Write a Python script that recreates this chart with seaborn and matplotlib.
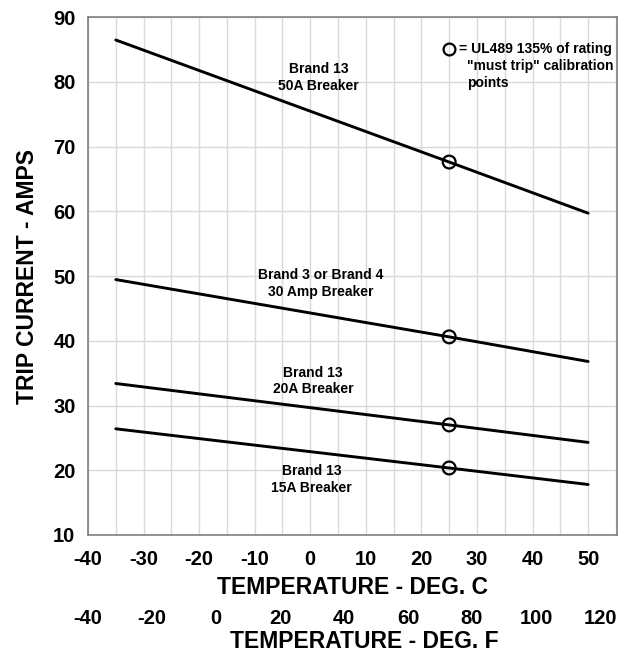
import numpy as np
import pandas as pd
import matplotlib.pyplot as plt
import seaborn as sns

# trip current vs ambient temperature
temp_c = [-35, 25, 50]
amps_50a = [86.45, 67.6, 59.7]
amps_30a = [49.45, 40.6, 36.8]
amps_20a = [33.4, 27.0, 24.3]
amps_15a = [26.4, 20.35, 17.8]

# UL489 135% of rating points (at 25 C)
cal_temp = [25, 25, 25, 25]
cal_amps = [67.6, 40.6, 27.0, 20.35]

breakers = ['50A', '30A', '20A', '15A']
labels = ['Brand 13\n50A Breaker', 'Brand 3 or Brand 4\n30 Amp Breaker',
          'Brand 13\n20A Breaker', 'Brand 13\n15A Breaker']
label_x = [1.5, 1.8, 0.5, 0.2]
label_y = [80.7, 48.8, 33.8, 18.6]

c_ticks = [-40, -30, -20, -10, 0, 10, 20, 30, 40, 50]
f_ticks = [-40, -20, 0, 20, 40, 60, 80, 100, 120]
y_ticks = [10, 20, 30, 40, 50, 60, 70, 80, 90]

df = pd.DataFrame({
    'temp': temp_c * 4,
    'amps': amps_50a + amps_30a + amps_20a + amps_15a,
    'breaker': [b for b in breakers for _ in temp_c],
})
cal_df = pd.DataFrame({'temp': cal_temp, 'amps': cal_amps})

sns.set_style('white')
plt.rcParams['font.family'] = ['Liberation Sans', 'DejaVu Sans']
plt.rcParams['font.weight'] = 'bold'
plt.rcParams['text.color'] = 'black'
plt.rcParams['axes.labelcolor'] = 'black'
plt.rcParams['xtick.color'] = 'black'
plt.rcParams['ytick.color'] = 'black'

fig = plt.figure(figsize=(6.35, 6.54), dpi=100)
ax = fig.add_axes([88/635, 1-535/654, 529/635, 518/654])

sns.lineplot(data=df, x='temp', y='amps', units='breaker', estimator=None,
             color='black', linewidth=2.1, ax=ax, legend=False)
sns.scatterplot(data=cal_df, x='temp', y='amps', ax=ax, s=85,
                facecolor='none', edgecolor='black', linewidth=1.6, zorder=5)

ax.set_xlim(-40, 55.2)
ax.set_ylim(10, 90)
ax.set_xticks(c_ticks, labels=[str(t) for t in c_ticks])
ax.set_xticks(np.arange(-35, 56, 10), minor=True)
ax.set_yticks(y_ticks)
ax.grid(True, which='both', axis='x', color='#d9d9d9', linewidth=1.0)
ax.grid(True, which='major', axis='y', color='#d9d9d9', linewidth=1.0)
ax.set_axisbelow(True)
for s in ax.spines.values():
    s.set_color('#7f7f7f')
    s.set_linewidth(1.2)
ax.tick_params(axis='both', which='both', length=0, labelsize=14.5)
ax.tick_params(axis='x', pad=11)
ax.tick_params(axis='y', pad=9)
ax.set_xlabel('TEMPERATURE - DEG. C', fontsize=16.5, fontweight='bold', labelpad=5)
ax.set_ylabel('TRIP CURRENT - AMPS', fontsize=16.5, fontweight='bold', labelpad=10)

k = 5.556 / 3.2
sec = ax.secondary_xaxis(-0.137, functions=(lambda c: -40 + (c + 40) * k,
                                            lambda f: -40 + (f + 40) / k))
sec.set_xticks(f_ticks, labels=[str(t) for t in f_ticks])
sec.tick_params(length=0, labelsize=14.5, pad=2)
sec.spines['bottom'].set_visible(False)
fig.text(364/635, 1-642/654, 'TEMPERATURE - DEG. F', ha='center', va='center',
         fontsize=16.5, fontweight='bold')

for t, x, y in zip(labels, label_x, label_y):
    ax.text(x, y, t, ha='center', va='center', fontsize=10, fontweight='bold',
            linespacing=1.25)

ax.plot([0.682], [0.939], transform=ax.transAxes, marker='o', markersize=8.5,
        markerfacecolor='none', markeredgecolor='black', markeredgewidth=1.6)
ax.text(0.702, 0.939, '= UL489 135% of rating', transform=ax.transAxes,
        ha='left', va='center', fontsize=10, fontweight='bold')
ax.text(0.717, 0.918, '"must trip" calibration\npoints', transform=ax.transAxes,
        ha='left', va='top', fontsize=10, fontweight='bold', linespacing=1.2)

fig.savefig('out.png', dpi=100)
